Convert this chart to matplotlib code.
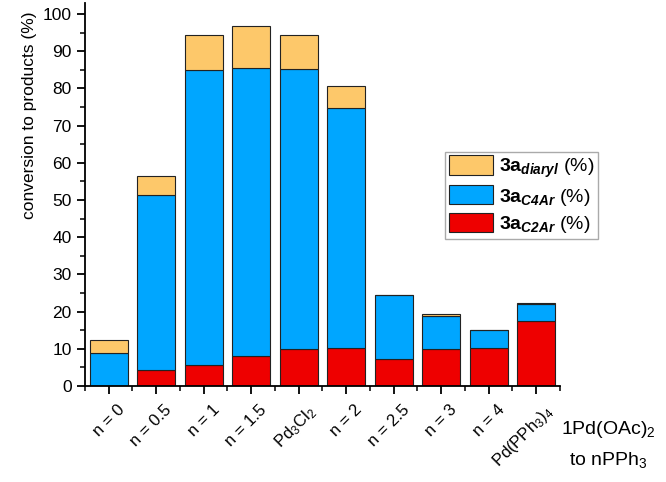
import matplotlib
matplotlib.use("Agg")
import matplotlib.pyplot as plt
import matplotlib.transforms as mtransforms
import numpy as np
from matplotlib.ticker import MultipleLocator

plt.rcParams['font.family'] = ['Liberation Sans', 'DejaVu Sans']
plt.rcParams['mathtext.fontset'] = 'custom'
plt.rcParams['mathtext.rm'] = 'Liberation Sans'
plt.rcParams['mathtext.it'] = 'Liberation Sans:italic'
plt.rcParams['mathtext.bf'] = 'Liberation Sans:bold'
plt.rcParams['mathtext.bfit'] = 'Liberation Sans:italic:bold'

categories = ['n = 0', 'n = 0.5', 'n = 1', 'n = 1.5', 'Pd$_3$Cl$_2$', 'n = 2',
              'n = 2.5', 'n = 3', 'n = 4', 'Pd(PPh$_3$)$_4$']
c2ar = [0.0, 4.2, 5.7, 8.1, 9.9, 10.3, 7.2, 9.9, 10.2, 17.5]
c4ar = [8.8, 47.1, 79.2, 77.3, 75.2, 64.4, 17.2, 8.9, 5.0, 4.5]
diaryl = [3.6, 5.2, 9.6, 11.4, 9.4, 5.9, 0.0, 0.7, 0.0, 0.3]

col_red = '#EE0000'
col_blue = '#00A6FF'
col_yel = '#FDC86A'

fig = plt.figure(figsize=(6.66, 4.82), dpi=100)
ax = fig.add_axes([0.1276, 0.199, 0.713, 0.795])
x = np.arange(len(categories))
c2 = np.array(c2ar); c4 = np.array(c4ar); di = np.array(diaryl)
w = 0.8
b1 = ax.bar(x, c2, w, color=col_red, edgecolor='#222222', linewidth=0.8, label=r'$\mathbf{3a}_{\mathbfit{C2Ar}}$ (%)')
b2 = ax.bar(x, c4, w, bottom=c2, color=col_blue, edgecolor='#222222', linewidth=0.8, label=r'$\mathbf{3a}_{\mathbfit{C4Ar}}$ (%)')
b3 = ax.bar(x, di, w, bottom=c2 + c4, color=col_yel, edgecolor='#222222', linewidth=0.8, label=r'$\mathbf{3a}_{\mathbfit{diaryl}}$ (%)')

ax.set_xlim(-0.5, 9.5)
ax.set_ylim(0, 103)
ax.spines['top'].set_visible(False)
ax.spines['right'].set_visible(False)
ax.spines['left'].set_linewidth(1.3)
ax.spines['bottom'].set_linewidth(1.3)
ax.yaxis.set_major_locator(MultipleLocator(10))
ax.yaxis.set_minor_locator(MultipleLocator(5))
ax.xaxis.set_minor_locator(MultipleLocator(1, offset=0.5))
ax.tick_params(axis='both', which='major', direction='out', length=6, width=1.3)
ax.tick_params(axis='y', which='major', labelsize=12.5)
ax.tick_params(axis='both', which='minor', direction='out', length=3.5, width=1.1)
ax.set_xticks(x)
ax.set_xticklabels(categories, rotation=45, ha='right', rotation_mode='anchor', fontsize=12)
offset = mtransforms.ScaledTranslation(8 / 100, -3 / 100, fig.dpi_scale_trans)
for lab in ax.get_xticklabels():
    lab.set_transform(lab.get_transform() + offset)
ax.set_ylabel('conversion to products (%)', fontsize=12.5)
ax.yaxis.set_label_coords(-0.1, 0.706)

handles = [b3, b2, b1]
leg = ax.legend(handles=handles, labels=[h.get_label() for h in handles],
                loc='upper left', bbox_to_anchor=(0.758, 0.612), borderaxespad=0,
                fontsize=14, handlelength=2.27, handleheight=1.13, handletextpad=0.3,
                labelspacing=0.3, borderpad=0.2, fancybox=False,
                edgecolor='#aaaaaa', framealpha=1)
leg.get_frame().set_linewidth(1.0)

fig.text(0.913, 0.108, '1Pd(OAc)$_2$', ha='center', va='center', fontsize=14)
fig.text(0.913, 0.046, 'to nPPh$_3$', ha='center', va='center', fontsize=14)

fig.savefig('out.png', dpi=100)
